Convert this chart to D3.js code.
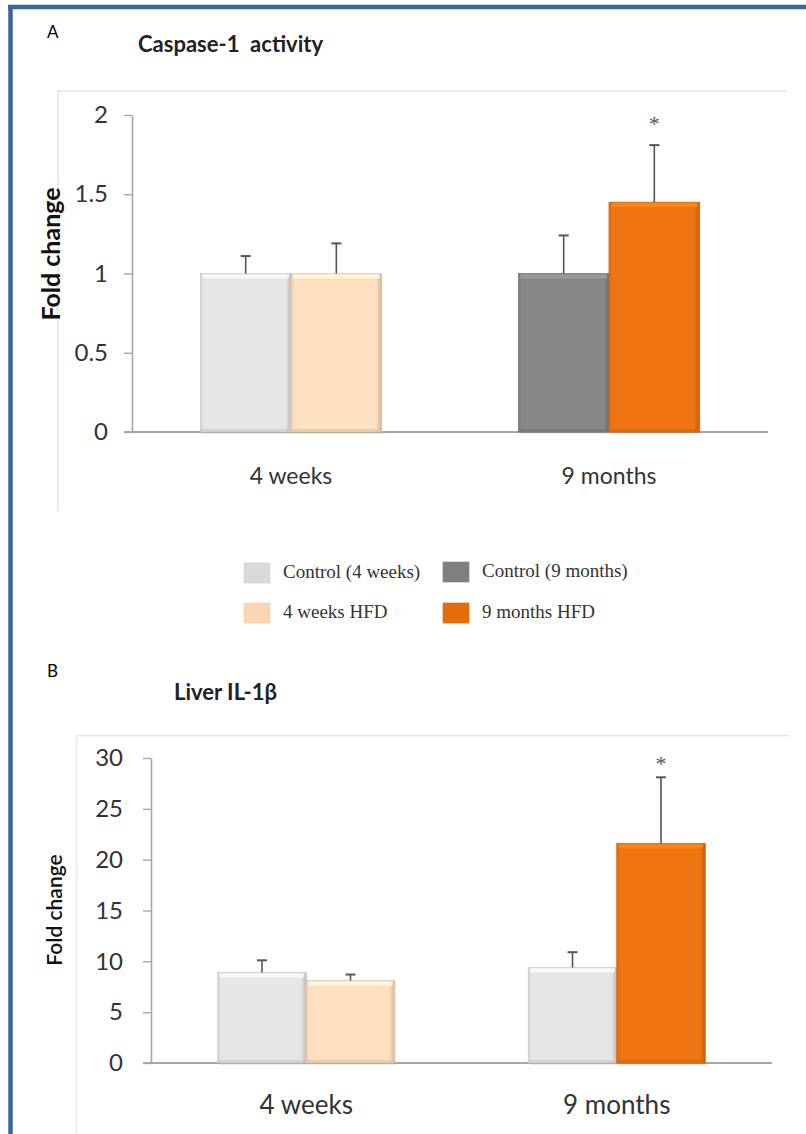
<!DOCTYPE html>
<html>
<head>
<meta charset="utf-8">
<script src="https://cdn.jsdelivr.net/npm/d3@7"></script>
<style>
  html, body { margin: 0; padding: 0; background: #fff; }
  svg { display: block; font-family: Lato, "Open Sans", sans-serif; }
</style>
</head>
<body>
<svg id="fig" width="806" height="1134"></svg>
<script>
// ---- data ----
const groups = ["4 weeks", "9 months"];
const legendLabels = ["Control (4 weeks)", "Control (9 months)", "4 weeks HFD", "9 months HFD"];
const legendColors = ["#d9d9d9", "#7f7f7f", "#fcd5b4", "#e46c0a"];

// Panel A: caspase-1 activity (fold change), bars in order: ctrl 4w, HFD 4w, ctrl 9m, HFD 9m
const casp1Mean = [1.00, 1.00, 1.00, 1.45];
const casp1Err  = [0.11, 0.19, 0.24, 0.36];
const casp1Fill = ["#e6e6e6", "#fde0c0", "#878787", "#f07512"];
const casp1Sig  = [false, false, false, true];
const casp1Ticks = [0, 0.5, 1, 1.5, 2];

// Panel B: liver IL-1β (fold change)
const il1bMean = [8.9, 8.1, 9.4, 21.6];
const il1bErr  = [1.2, 0.6, 1.5, 6.5];
const il1bFill = ["#e6e6e6", "#fde0c0", "#e6e6e6", "#f07512"];
const il1bSig  = [false, false, false, true];
const il1bTicks = [0, 5, 10, 15, 20, 25, 30];

const svg = d3.select("#fig");
const defs = svg.append("defs");
const SERIF = "'Liberation Serif', 'Times New Roman', serif";

// blue page border (top and left)
svg.append("line").attr("x1", 8).attr("x2", 806).attr("y1", 7).attr("y2", 7)
  .attr("stroke", "#3b6699").attr("stroke-width", 4.5);
svg.append("line").attr("x1", 10.5).attr("x2", 10.5).attr("y1", 5).attr("y2", 1134)
  .attr("stroke", "#3b6699").attr("stroke-width", 4.5);

// bevel shading helpers
function shade(c, k) { return d3.color(c).darker(k).formatHex(); }
function light(c, k) { return d3.color(c).brighter(k).formatHex(); }

function gradId(color, i, tag) {
  const id = "g" + tag + i;
  const g = defs.append("linearGradient").attr("id", id)
    .attr("x1", 0).attr("x2", 1).attr("y1", 0).attr("y2", 0);
  g.append("stop").attr("offset", "0%").attr("stop-color", shade(color, 0.25));
  g.append("stop").attr("offset", "4%").attr("stop-color", color);
  g.append("stop").attr("offset", "94%").attr("stop-color", color);
  g.append("stop").attr("offset", "100%").attr("stop-color", shade(color, 0.6));
  return id;
}

function panel(cfg) {
  const g = svg.append("g");

  // faint chart-area frame
  g.append("path")
    .attr("d", `M${cfg.frame.x},${cfg.frame.bottom}V${cfg.frame.y}H${cfg.frame.right}`)
    .attr("fill", "none").attr("stroke", "#ebebeb").attr("stroke-width", 2);

  // panel letter and title
  g.append("text").attr("x", cfg.letter.x).attr("y", cfg.letter.y)
    .attr("font-size", 17).attr("fill", "#000").text(cfg.letter.t);
  g.append("text").attr("x", cfg.title.x).attr("y", cfg.title.y)
    .attr("font-size", cfg.title.size).attr("font-weight", "bold").attr("fill", "#222")
    .style("white-space", "pre").text(cfg.title.t);

  const y = d3.scaleLinear().domain(cfg.domain).range([cfg.y0, cfg.y1]);
  const x0 = d3.scaleBand().domain(groups).range([cfg.xL, cfg.xR]).padding(0);
  const barW = x0.bandwidth() * 0.285;
  const x1 = d3.scaleBand().domain([0, 1]).range([-barW, barW]).padding(0);

  // y axis
  const yAxis = d3.axisLeft(y).tickValues(cfg.ticks).tickSize(8).tickSizeOuter(0)
    .tickFormat(d3.format("~g"));
  const ay = g.append("g").attr("transform", `translate(${cfg.xL},0)`).call(yAxis);
  ay.attr("font-family", null).attr("font-size", null);
  ay.select(".domain").attr("stroke", "#a6a6a6").attr("stroke-width", 1.6);
  ay.selectAll(".tick line").attr("stroke", "#a6a6a6").attr("stroke-width", 1.4);
  ay.selectAll(".tick text").attr("font-size", cfg.tickSize).attr("fill", "#333")
    .attr("x", cfg.tickLabelDx);

  // baseline
  g.append("line").attr("x1", cfg.xL - 8).attr("x2", cfg.xR).attr("y1", y(0)).attr("y2", y(0))
    .attr("stroke", "#a6a6a6").attr("stroke-width", 2);

  // bars
  const bars = cfg.mean.map((m, i) => ({
    i, m, e: cfg.err[i], fill: cfg.fill[i], sig: cfg.sig[i],
    group: groups[Math.floor(i / 2)], slot: i % 2
  }));
  const bx = d => x0(d.group) + x0.bandwidth() / 2 + x1(d.slot);

  const bg = g.append("g");
  bars.forEach(d => {
    const x = bx(d), w = x1.bandwidth(), top = y(d.m), h = y(0) - y(d.m);
    // soft shadow under the bar
    bg.append("rect").attr("x", x + 1).attr("y", top + 2).attr("width", w).attr("height", h)
      .attr("fill", "#000").attr("opacity", 0.08);
    bg.append("rect").attr("x", x).attr("y", top).attr("width", w).attr("height", h)
      .attr("fill", `url(#${gradId(d.fill, d.i, cfg.tag)})`)
      .attr("stroke", shade(d.fill, 0.35)).attr("stroke-width", 0.8);
    // bevel highlight along the top
    bg.append("rect").attr("x", x + 2).attr("y", top + 1).attr("width", w - 4).attr("height", 4)
      .attr("fill", light(d.fill, 0.5)).attr("opacity", 0.75);
    // bevel darkening along the bottom
    bg.append("rect").attr("x", x + 1).attr("y", y(0) - 3).attr("width", w - 2).attr("height", 3)
      .attr("fill", shade(d.fill, 0.4)).attr("opacity", 0.6);
  });

  // error bars (upper only)
  const eg = g.append("g").attr("stroke", "#555").attr("stroke-width", 1.6);
  bars.forEach(d => {
    const cx = bx(d) + x1.bandwidth() / 2;
    eg.append("line").attr("x1", cx).attr("x2", cx).attr("y1", y(d.m)).attr("y2", y(d.m + d.e));
    eg.append("line").attr("x1", cx - 5).attr("x2", cx + 5)
      .attr("y1", y(d.m + d.e)).attr("y2", y(d.m + d.e)).attr("stroke-width", 2);
    if (d.sig) {
      g.append("text").attr("x", cx).attr("y", y(d.m + d.e) - cfg.starGap)
        .attr("text-anchor", "middle").attr("font-size", 22).attr("fill", "#555")
        .style("font-family", SERIF).text("*");
    }
  });

  // group labels
  g.selectAll(".grp").data(groups).join("text")
    .attr("x", d => x0(d) + x0.bandwidth() / 2).attr("y", cfg.labelY)
    .attr("text-anchor", "middle").attr("font-size", cfg.labelSize).attr("fill", "#333")
    .text(d => d);

  // y-axis title
  g.append("text")
    .attr("transform", `translate(${cfg.yTitle.x},${cfg.yTitle.y}) rotate(-90)`)
    .attr("text-anchor", "middle").attr("font-size", cfg.yTitle.size)
    .attr("font-weight", cfg.yTitle.weight).attr("fill", "#111").text("Fold change");
}

panel({
  tag: "a",
  frame: { x: 58, y: 91, right: 787, bottom: 511 },
  letter: { x: 47, y: 38, t: "A" },
  title: { x: 138, y: 52, t: "Caspase-1  activity", size: 22 },
  domain: [0, 2], y0: 432, y1: 115, ticks: casp1Ticks,
  xL: 132, xR: 768,
  mean: casp1Mean, err: casp1Err, fill: casp1Fill, sig: casp1Sig,
  tickSize: 24, tickLabelDx: -24, labelY: 484, labelSize: 23, starGap: 14,
  yTitle: { x: 60, y: 254, size: 25, weight: "bold" }
});

panel({
  tag: "b",
  frame: { x: 76.5, y: 735.5, right: 790, bottom: 1134 },
  letter: { x: 47, y: 677, t: "B" },
  title: { x: 174, y: 700, t: "Liver IL-1β", size: 22 },
  domain: [0, 30], y0: 1063, y1: 758, ticks: il1bTicks,
  xL: 151, xR: 772,
  mean: il1bMean, err: il1bErr, fill: il1bFill, sig: il1bSig,
  tickSize: 24, tickLabelDx: -28, labelY: 1114, labelSize: 26, starGap: 6,
  yTitle: { x: 62, y: 910, size: 21, weight: "600" }
});

// legend (between the two panels)
const lg = svg.append("g");
const legPos = [[244, 563], [443, 562], [244, 603], [443, 603]];
legendLabels.forEach((t, i) => {
  const [lx, ly] = legPos[i];
  lg.append("rect").attr("x", lx).attr("y", ly).attr("width", 26).attr("height", 20)
    .attr("fill", legendColors[i]).attr("stroke", shade(legendColors[i], 0.15)).attr("stroke-width", 0.6);
  lg.append("text").attr("x", lx + 39).attr("y", ly + 15)
    .style("font-family", SERIF)
    .attr("font-size", 19).attr("fill", "#333").text(t);
});
</script>
</body>
</html>
